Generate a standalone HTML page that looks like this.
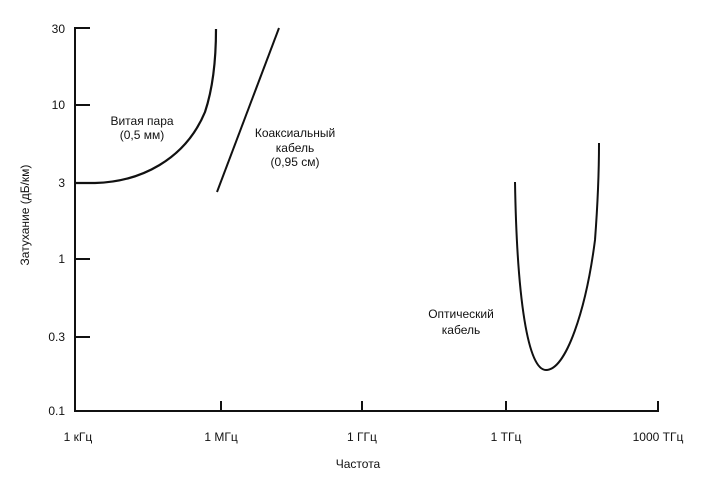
<!DOCTYPE html>
<html><head><meta charset="utf-8"><style>
body{margin:0;background:#fff;}
svg text{font-family:"Liberation Sans","DejaVu Sans",sans-serif;font-size:12px;fill:#111;}
</style></head><body>
<svg width="702" height="486" viewBox="0 0 702 486" xmlns="http://www.w3.org/2000/svg">
<rect width="702" height="486" fill="#fff"/>
<g stroke="#111" stroke-width="2" fill="none">
<line x1="75" y1="27" x2="75" y2="412"/>
<line x1="74" y1="411" x2="659" y2="411"/>
<line x1="75" y1="28" x2="90" y2="28"/>
<line x1="75" y1="105" x2="90" y2="105"/>
<line x1="75" y1="183" x2="90" y2="183"/>
<line x1="75" y1="259" x2="90" y2="259"/>
<line x1="75" y1="337" x2="90" y2="337"/>
<line x1="221" y1="401" x2="221" y2="411"/>
<line x1="362" y1="401" x2="362" y2="411"/>
<line x1="506" y1="401" x2="506" y2="411"/>
<line x1="658" y1="401" x2="658" y2="411"/>
<path d="M75,183 L95,183 C140,182 185,160 205,112 C213,88 216,58 216,29" stroke-width="2.2"/>
<line x1="217" y1="192" x2="279" y2="28"/>
<path d="M515,182 C517,300 528,370 546,370 C566,370 586,310 595,240 C598,200 599,170 599,143"/>
</g>
<text x="65" y="33" text-anchor="end">30</text>
<text x="65" y="109" text-anchor="end">10</text>
<text x="65" y="187" text-anchor="end">3</text>
<text x="65" y="263" text-anchor="end">1</text>
<text x="65" y="341" text-anchor="end">0.3</text>
<text x="65" y="415" text-anchor="end">0.1</text>
<text x="78" y="441" text-anchor="middle">1 кГц</text>
<text x="221" y="441" text-anchor="middle">1 МГц</text>
<text x="362" y="441" text-anchor="middle">1 ГГц</text>
<text x="506" y="441" text-anchor="middle">1 ТГц</text>
<text x="658" y="441" text-anchor="middle">1000 ТГц</text>
<text x="358" y="468" text-anchor="middle">Частота</text>
<text transform="translate(29,215) rotate(-90)" text-anchor="middle">Затухание (дБ/км)</text>
<text x="142" y="125" text-anchor="middle">Витая пара</text>
<text x="142" y="139" text-anchor="middle">(0,5 мм)</text>
<text x="295" y="137" text-anchor="middle">Коаксиальный</text>
<text x="295" y="152" text-anchor="middle">кабель</text>
<text x="295" y="166" text-anchor="middle">(0,95 см)</text>
<text x="461" y="318" text-anchor="middle">Оптический</text>
<text x="461" y="334" text-anchor="middle">кабель</text>
</svg>
</body></html>
